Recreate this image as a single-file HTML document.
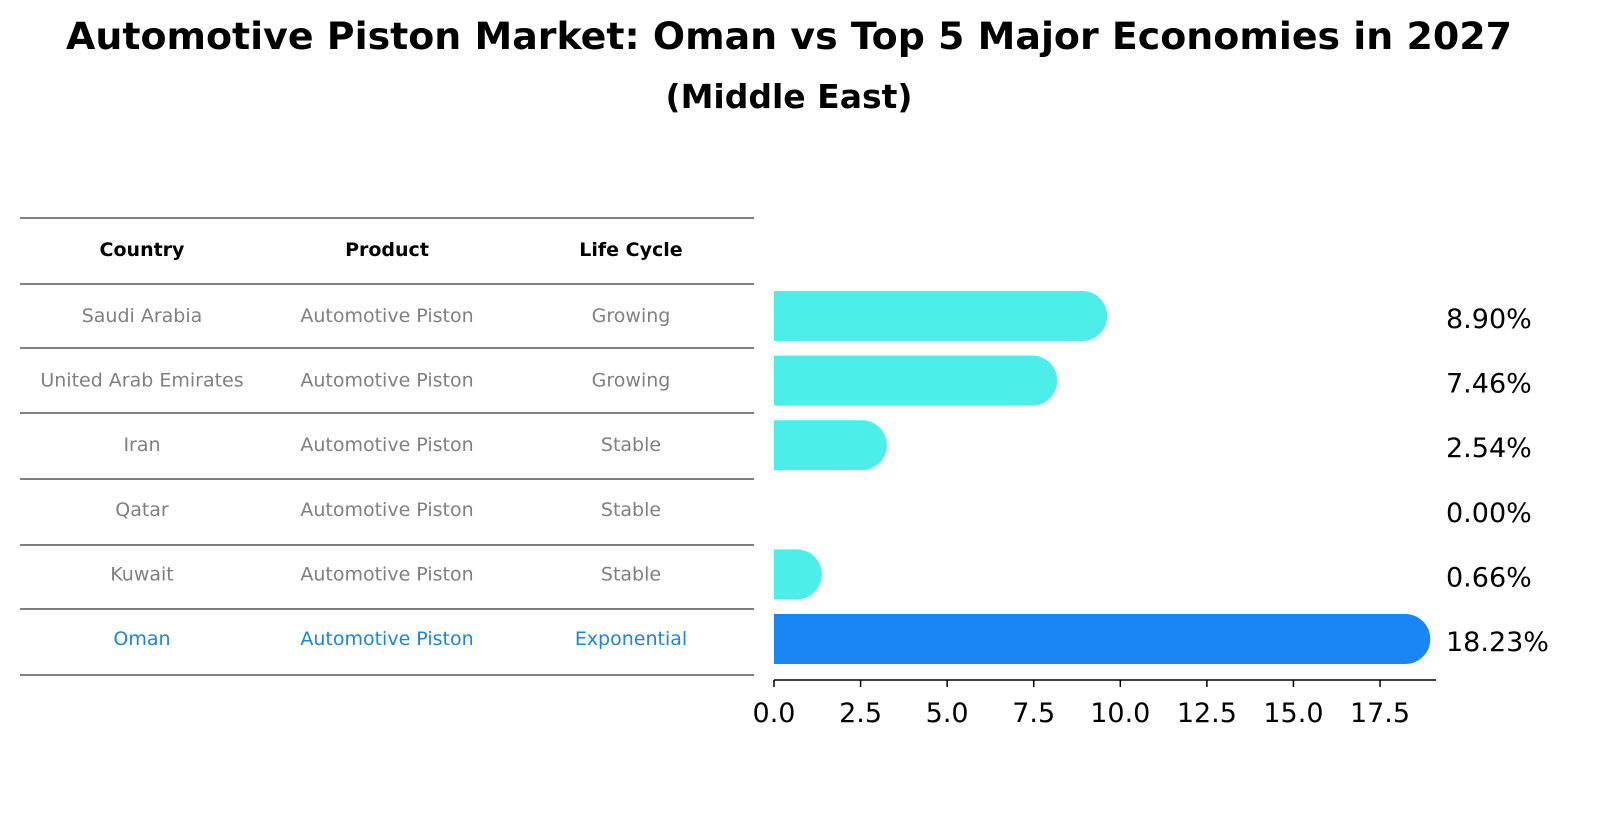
<!DOCTYPE html>
<html><head><meta charset="utf-8"><style>
body{margin:0;background:#fff;font-family:"DejaVu Sans","Liberation Sans",sans-serif;}
</style></head><body>
<svg width="1604" height="823" xmlns="http://www.w3.org/2000/svg">
<text x="789" y="49" text-anchor="middle" font-size="37" font-weight="bold" textLength="1446" lengthAdjust="spacingAndGlyphs">Automotive Piston Market: Oman vs Top 5 Major Economies in 2027</text>
<text x="789" y="108" text-anchor="middle" font-size="33" font-weight="bold">(Middle East)</text>
<g id="table"></g>
<g id="bars"></g>
<g id="axis"></g>
</svg>
<script>
const countries=["Saudi Arabia","United Arab Emirates","Iran","Qatar","Kuwait","Oman"];
const products=["Automotive Piston","Automotive Piston","Automotive Piston","Automotive Piston","Automotive Piston","Automotive Piston"];
const lifeCycles=["Growing","Growing","Stable","Stable","Stable","Exponential"];
const values=[8.90,7.46,2.54,0.00,0.66,18.23];
const ticks=[0,2.5,5,7.5,10,12.5,15,17.5];
const NS="http://www.w3.org/2000/svg";
function mk(t,a,p){const e=document.createElementNS(NS,t);for(const k in a)e.setAttribute(k,a[k]);p.appendChild(e);return e;}
const x0=774,ppu=34.63;
const xs=v=>x0+v*ppu;
const rowY=i=>316+i*64.6;
const tbl=document.getElementById('table');
const lines=[218,284,348,413,479,545,609,675];
lines.forEach(y=>{const l=mk('line',{x1:20,x2:754,y1:y,y2:y,stroke:'#000','stroke-width':1},tbl);

});
const cx=[142,387,631];
["Country","Product","Life Cycle"].forEach((h,j)=>{const t=mk('text',{x:cx[j],y:256,'text-anchor':'middle','font-size':19,'font-weight':'bold'},tbl);t.textContent=h;

});
countries.forEach((c,i)=>{const col=i==5?'#1a86d9':'#808080';
[c,products[i],lifeCycles[i]].forEach((s,j)=>{const t=mk('text',{x:cx[j],y:rowY(i)+6,'text-anchor':'middle','font-size':19,fill:col},tbl);t.textContent=s;

});});
const bars=document.getElementById('bars');
values.forEach((v,i)=>{const y=rowY(i);const h=50;const col=i==5?'#1a86f5':'#4ceee9';
if(v>0){const xe=xs(v);const p=mk('path',{d:`M${x0} ${y-h/2} H${xe} A${h/2} ${h/2} 0 0 1 ${xe} ${y+h/2} H${x0} Z`,fill:col},bars);

}
const t=mk('text',{x:1446,y:y+12,'font-size':27,fill:'#000'},bars);t.textContent=v.toFixed(2)+'%';

});
const ax=document.getElementById('axis');
mk('line',{x1:x0,x2:1436,y1:680,y2:680,stroke:'#000','stroke-width':1.5},ax);
ticks.forEach(v=>{mk('line',{x1:xs(v),x2:xs(v),y1:680,y2:687,stroke:'#000','stroke-width':1.5},ax);
const t=mk('text',{x:xs(v),y:722,'text-anchor':'middle','font-size':27},ax);t.textContent=v.toFixed(1);

});
</script>
</body></html>
